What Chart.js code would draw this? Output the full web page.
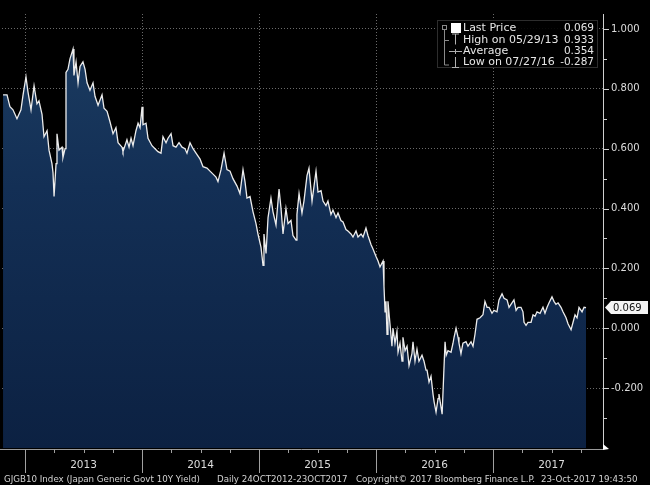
<!DOCTYPE html>
<html>
<head>
<meta charset="utf-8">
<title>GJGB10 Index</title>
<script src="https://cdn.jsdelivr.net/npm/chart.js@4.4.1/dist/chart.umd.min.js"></script>
<style>
  html, body { margin: 0; padding: 0; background: #000; }
  #wrap { width: 650px; height: 485px; }
</style>
</head>
<body>
<div id="wrap"><canvas id="chart" width="650" height="485"></canvas></div>
<script>
// Japan Generic Govt 10Y yield (decimal year, %)
const dates = [
  2012.812, 2012.846, 2012.871, 2012.897, 2012.931, 2012.965, 2012.983, 2013.008, 2013.025, 2013.051,
  2013.077, 2013.102, 2013.119, 2013.145, 2013.162, 2013.188, 2013.205, 2013.230, 2013.239, 2013.248,
  2013.265, 2013.273, 2013.290, 2013.316, 2013.324, 2013.342, 2013.350, 2013.367, 2013.384, 2013.410,
  2013.418, 2013.436, 2013.453, 2013.470, 2013.495, 2013.513, 2013.530, 2013.555, 2013.581, 2013.598,
  2013.624, 2013.658, 2013.675, 2013.701, 2013.726, 2013.752, 2013.777, 2013.795, 2013.829, 2013.837,
  2013.871, 2013.889, 2013.906, 2013.923, 2013.948, 2013.966, 2013.983, 2014.000, 2014.008, 2014.034,
  2014.051, 2014.085, 2014.111, 2014.136, 2014.162, 2014.179, 2014.205, 2014.222, 2014.248, 2014.265,
  2014.290, 2014.316, 2014.342, 2014.367, 2014.384, 2014.410, 2014.436, 2014.470, 2014.496, 2014.521,
  2014.555, 2014.581, 2014.607, 2014.632, 2014.649, 2014.675, 2014.701, 2014.726, 2014.752, 2014.777,
  2014.812, 2014.837, 2014.863, 2014.880, 2014.897, 2014.923, 2014.948, 2014.974, 2014.991, 2015.017,
  2015.034, 2015.042, 2015.060, 2015.077, 2015.102, 2015.119, 2015.145, 2015.171, 2015.188, 2015.205,
  2015.230, 2015.248, 2015.273, 2015.290, 2015.316, 2015.324, 2015.342, 2015.367, 2015.384, 2015.410,
  2015.427, 2015.453, 2015.470, 2015.487, 2015.504, 2015.530, 2015.547, 2015.572, 2015.589, 2015.615,
  2015.632, 2015.658, 2015.675, 2015.700, 2015.718, 2015.743, 2015.760, 2015.786, 2015.803, 2015.829,
  2015.846, 2015.872, 2015.889, 2015.914, 2015.931, 2015.957, 2015.974, 2016.000, 2016.017, 2016.034,
  2016.060, 2016.068, 2016.077, 2016.085, 2016.094, 2016.102, 2016.119, 2016.136, 2016.145, 2016.162,
  2016.179, 2016.188, 2016.205, 2016.222, 2016.230, 2016.248, 2016.265, 2016.282, 2016.307, 2016.316,
  2016.333, 2016.350, 2016.367, 2016.393, 2016.410, 2016.427, 2016.436, 2016.453, 2016.470, 2016.487,
  2016.496, 2016.513, 2016.530, 2016.538, 2016.565, 2016.580, 2016.590, 2016.600, 2016.615, 2016.641,
  2016.658, 2016.667, 2016.684, 2016.701, 2016.709, 2016.726, 2016.743, 2016.769, 2016.786, 2016.812,
  2016.829, 2016.846, 2016.863, 2016.889, 2016.914, 2016.931, 2016.949, 2016.966, 2016.991, 2017.008,
  2017.034, 2017.051, 2017.077, 2017.094, 2017.120, 2017.137, 2017.162, 2017.179, 2017.197, 2017.214,
  2017.239, 2017.256, 2017.265, 2017.282, 2017.299, 2017.325, 2017.342, 2017.359, 2017.376, 2017.402,
  2017.427, 2017.444, 2017.462, 2017.479, 2017.504, 2017.521, 2017.538, 2017.556, 2017.581, 2017.598,
  2017.624, 2017.641, 2017.667, 2017.684, 2017.701, 2017.718, 2017.735, 2017.761, 2017.778, 2017.795
];
const yields = [
  0.780, 0.780, 0.740, 0.730, 0.700, 0.730, 0.780, 0.840, 0.790, 0.730,
  0.810, 0.750, 0.760, 0.715, 0.640, 0.660, 0.595, 0.550, 0.520, 0.440,
  0.550, 0.650, 0.595, 0.605, 0.570, 0.600, 0.855, 0.865, 0.900, 0.933,
  0.845, 0.890, 0.820, 0.875, 0.890, 0.865, 0.820, 0.795, 0.820, 0.775,
  0.745, 0.780, 0.735, 0.725, 0.690, 0.650, 0.670, 0.620, 0.605, 0.590,
  0.630, 0.605, 0.635, 0.610, 0.660, 0.685, 0.670, 0.740, 0.680, 0.685,
  0.635, 0.610, 0.600, 0.590, 0.585, 0.640, 0.620, 0.635, 0.650, 0.610,
  0.605, 0.620, 0.605, 0.600, 0.585, 0.620, 0.600, 0.580, 0.565, 0.540,
  0.535, 0.525, 0.515, 0.505, 0.490, 0.530, 0.585, 0.530, 0.525, 0.500,
  0.475, 0.450, 0.530, 0.490, 0.435, 0.440, 0.390, 0.350, 0.315, 0.270,
  0.210, 0.315, 0.250, 0.370, 0.435, 0.390, 0.345, 0.465, 0.400, 0.315,
  0.400, 0.350, 0.360, 0.310, 0.295, 0.380, 0.450, 0.385, 0.425, 0.510,
  0.535, 0.425, 0.475, 0.525, 0.455, 0.460, 0.425, 0.410, 0.425, 0.380,
  0.395, 0.370, 0.385, 0.360, 0.355, 0.330, 0.325, 0.315, 0.305, 0.325,
  0.305, 0.315, 0.305, 0.335, 0.310, 0.280, 0.265, 0.240, 0.225, 0.205,
  0.225, 0.140, 0.055, 0.090, -0.020, 0.090, 0.015, -0.060, 0.000, -0.050,
  -0.010, -0.080, -0.050, -0.110, -0.030, -0.075, -0.060, -0.125, -0.085, -0.045,
  -0.110, -0.070, -0.110, -0.090, -0.110, -0.140, -0.140, -0.180, -0.160, -0.220,
  -0.245, -0.280, -0.235, -0.220, -0.287, -0.140, -0.045, -0.090, -0.075, -0.080,
  -0.050, -0.030, 0.000, -0.030, -0.050, -0.085, -0.050, -0.045, -0.060, -0.045,
  -0.060, -0.020, 0.030, 0.035, 0.045, 0.090, 0.070, 0.070, 0.050, 0.060,
  0.055, 0.095, 0.115, 0.100, 0.095, 0.070, 0.085, 0.095, 0.060, 0.070,
  0.070, 0.055, 0.020, 0.010, 0.020, 0.020, 0.045, 0.040, 0.055, 0.050,
  0.070, 0.050, 0.070, 0.085, 0.105, 0.090, 0.080, 0.085, 0.070, 0.055,
  0.035, 0.015, -0.005, 0.020, 0.045, 0.035, 0.070, 0.055, 0.070, 0.069
];

// axis ticks and labels
const yearStarts = [2013, 2014, 2015, 2016, 2017];
const yearLabels = ['2013', '2014', '2015', '2016', '2017'];
const yMajor = [-0.2, 0.0, 0.2, 0.4, 0.6, 0.8, 1.0];
const yMinor = [-0.3, -0.1, 0.1, 0.3, 0.5, 0.7, 0.9];

// legend block
const legendLabels = ['Last Price', 'High on 05/29/13', 'Average', 'Low on 07/27/16'];
const legendValues = ['0.069', '0.933', '0.354', '-0.287'];

const footerTexts = [
  'GJGB10 Index (Japan Generic Govt 10Y Yield)',
  'Daily 24OCT2012-23OCT2017',
  'Copyright\u00A9 2017 Bloomberg Finance L.P.',
  '23-Oct-2017 19:43:50'
];
const footerX = [4, 217, 356, 541];

const FONT = '"DejaVu Sans", Verdana, sans-serif';

const points = dates.map((d, i) => ({ x: d, y: yields[i] }));

function areaFill(context) {
  const chart = context.chart;
  const area = chart.chartArea;
  if (!area) return '#0e2a4a';
  const g = chart.ctx.createLinearGradient(0, area.top, 0, area.bottom);
  g.addColorStop(0, '#1c3d62');
  g.addColorStop(0.4, '#132f55');
  g.addColorStop(1, '#0c2142');
  return g;
}

const decorations = {
  id: 'decorations',
  afterDraw(chart) {
    const c = chart.ctx;
    const xs = chart.scales.x;
    const ys = chart.scales.y;
    const area = chart.chartArea;
    const axisY = area.bottom + 1;

    c.save();

    // bottom axis line + arrow
    c.strokeStyle = '#9a9a9a';
    c.lineWidth = 1;
    c.beginPath();
    c.moveTo(0, axisY + 0.5);
    c.lineTo(area.right, axisY + 0.5);
    c.stroke();
    c.fillStyle = '#ffffff';
    c.beginPath();
    c.moveTo(area.right, axisY - 5);
    c.lineTo(area.right + 6, axisY);
    c.lineTo(area.right, axisY + 1);
    c.closePath();
    c.fill();

    // year separators and quarter ticks
    c.strokeStyle = '#a0a0a0';
    yearStarts.forEach(yr => {
      const px = Math.round(xs.getPixelForValue(yr)) + 0.5;
      c.beginPath();
      c.moveTo(px, axisY);
      c.lineTo(px, axisY + 24);
      c.stroke();
      [0.25, 0.5, 0.75].forEach(q => {
        const qx = Math.round(xs.getPixelForValue(yr + q)) + 0.5;
        if (qx > area.right) return;
        c.beginPath();
        c.moveTo(qx, axisY);
        c.lineTo(qx, axisY + 4);
        c.stroke();
      });
    });
    const pre = Math.round(xs.getPixelForValue(yearStarts[0] - 0.25)) + 0.5;
    if (pre > area.left) {
      c.beginPath(); c.moveTo(pre, axisY); c.lineTo(pre, axisY + 4); c.stroke();
    }

    // year labels, centred in each year
    c.fillStyle = '#dcdcdc';
    c.font = '10.5px ' + FONT;
    c.textAlign = 'center';
    c.textBaseline = 'middle';
    yearLabels.forEach((lab, i) => {
      c.fillText(lab, xs.getPixelForValue(yearStarts[i] + 0.5), 465);
    });

    // right axis tick marks
    c.strokeStyle = '#cfcfcf';
    yMajor.forEach(v => {
      const py = Math.round(ys.getPixelForValue(v)) + 0.5;
      c.beginPath(); c.moveTo(area.right, py); c.lineTo(area.right + 6, py); c.stroke();
    });
    yMinor.forEach(v => {
      const py = Math.round(ys.getPixelForValue(v)) + 0.5;
      c.beginPath(); c.moveTo(area.right, py); c.lineTo(area.right + 4, py); c.stroke();
    });

    // last price tag
    const last = yields[yields.length - 1];
    const ty = ys.getPixelForValue(last);
    c.fillStyle = '#f4f4f4';
    c.beginPath();
    c.moveTo(area.right + 2, ty);
    c.lineTo(area.right + 8, ty - 6.5);
    c.lineTo(648, ty - 6.5);
    c.lineTo(648, ty + 6.5);
    c.lineTo(area.right + 8, ty + 6.5);
    c.closePath();
    c.fill();
    c.fillStyle = '#111';
    c.textAlign = 'left';
    c.font = '10px ' + FONT;
    c.fillText(last.toFixed(3), area.right + 10, ty + 0.5);

    // legend box
    const bx = 437, by = 20, bw = 160, bh = 47;
    c.fillStyle = 'rgba(0,0,0,0.9)';
    c.fillRect(bx, by, bw, bh);
    c.strokeStyle = '#5a5a5a';
    c.setLineDash([1, 1]);
    c.strokeRect(bx + 0.5, by + 0.5, bw, bh);
    c.setLineDash([]);

    const rows = [28, 39.5, 51, 62];
    c.strokeStyle = '#8a8a8a';
    c.strokeRect(442.5, 25.5, 4, 4);
    c.beginPath();
    c.moveTo(444.5, 30); c.lineTo(444.5, rows[3] + 3);
    c.moveTo(444.5, rows[1] + 1); c.lineTo(449, rows[1] + 1);
    c.moveTo(444.5, rows[3] + 3); c.lineTo(449, rows[3] + 3);
    c.stroke();
    c.fillStyle = '#ffffff';
    c.fillRect(451, 23, 10, 10);
    c.strokeStyle = '#b0b0b0';
    c.beginPath();
    c.moveTo(452, rows[1] - 5.5); c.lineTo(459, rows[1] - 5.5);
    c.moveTo(455.5, rows[1] - 5.5); c.lineTo(455.5, rows[1] + 5);
    c.moveTo(449, rows[2] + 0.5); c.lineTo(462, rows[2] + 0.5);
    c.moveTo(455.5, rows[2] - 2); c.lineTo(455.5, rows[2] + 3);
    c.moveTo(455.5, rows[3] - 5); c.lineTo(455.5, rows[3] + 5.5);
    c.moveTo(452, rows[3] + 5.5); c.lineTo(459, rows[3] + 5.5);
    c.stroke();

    c.fillStyle = '#e6e6e6';
    c.font = '11px ' + FONT;
    legendLabels.forEach((lab, i) => {
      c.textAlign = 'left';
      c.fillText(lab, 463, rows[i] + 0.5);
    });
    c.font = '10.5px ' + FONT;
    legendValues.forEach((val, i) => {
      c.textAlign = 'right';
      c.fillText(val, 594, rows[i] + 0.5);
    });

    // footer line
    c.fillStyle = '#d2d2d2';
    c.font = '8.7px ' + FONT;
    c.textAlign = 'left';
    c.textBaseline = 'alphabetic';
    footerTexts.forEach((t, i) => {
      const maxW = (i < footerX.length - 1 ? footerX[i + 1] : 650) - footerX[i] - 5;
      c.fillText(t, footerX[i], 482, maxW);
    });

    c.restore();
  }
};

new Chart(document.getElementById('chart'), {
  type: 'line',
  data: {
    datasets: [{
      data: points,
      borderColor: '#ececec',
      borderWidth: 1.3,
      pointRadius: 0,
      tension: 0,
      fill: 'start',
      backgroundColor: areaFill
    }]
  },
  options: {
    responsive: false,
    animation: false,
    layout: { padding: { left: 2, top: 0, right: 0, bottom: 0 } },
    plugins: {
      legend: { display: false },
      tooltip: { enabled: false }
    },
    scales: {
      x: {
        type: 'linear',
        min: 2012.803,
        max: 2017.94,
        afterBuildTicks: s => { s.ticks = yearStarts.map(v => ({ value: v })); },
        afterFit: s => { s.height = 37; },
        ticks: { display: false },
        border: { display: false, dash: [1, 2] },
        grid: { drawTicks: false, color: '#6a6a6a', lineWidth: 1 }
      },
      y: {
        position: 'right',
        min: -0.4,
        max: 1.05,
        afterBuildTicks: s => { s.ticks = yMajor.map(v => ({ value: v })); },
        afterFit: s => { s.width = 47; },
        ticks: {
          padding: 8,
          color: '#dcdcdc',
          font: { family: FONT, size: 10 },
          callback: v => Number(v).toFixed(3)
        },
        border: { display: true, color: '#cfcfcf', width: 1, dash: [1, 2] },
        grid: { drawTicks: false, color: '#6a6a6a', lineWidth: 1 }
      }
    }
  },
  plugins: [decorations]
});
</script>
</body>
</html>
